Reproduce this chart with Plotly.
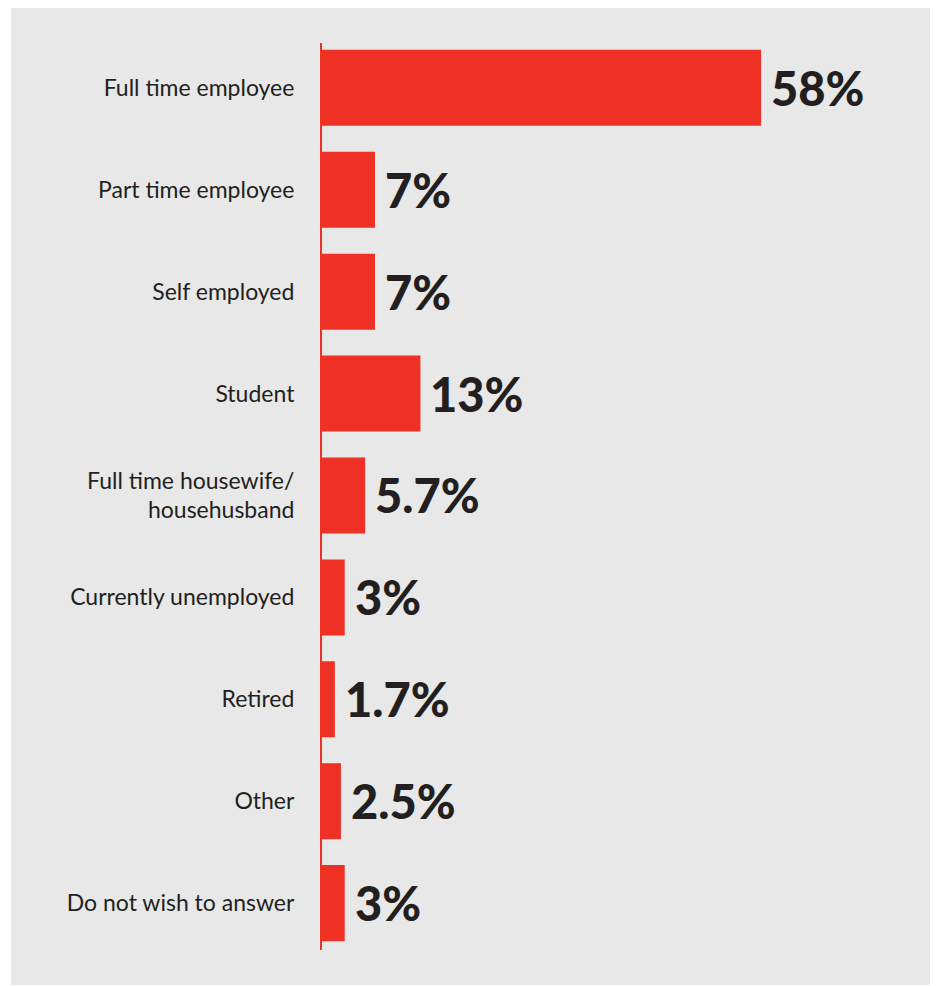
import plotly.graph_objects as go

categories = ["Full time employee", "Part time employee", "Self employed", "Student",
              "Full time housewife/<br>househusband", "Currently unemployed", "Retired",
              "Other", "Do not wish to answer"]
values = [58, 7, 7, 13, 5.7, 3, 1.7, 2.5, 3]
value_labels = ["58%", "7%", "7%", "13%", "5.7%", "3%", "1.7%", "2.5%", "3%"]

RED = "#ee3124"
INK = "#231f20"
PANEL = "#e7e8e7"

OFF = 8  # default page body margin
W, H = 938 - OFF, 986 - OFF
ML, MR, MT, MB = 322 - OFF, 5, 43 - OFF, 36
PW = W - ML - MR
PH = H - MT - MB

fig = go.Figure()
fig.add_trace(go.Bar(
    x=values, y=categories, orientation="h",
    marker=dict(color=RED, line=dict(width=0)),
    hoverinfo="skip",
))

for v, c, t in zip(values, categories, value_labels):
    fig.add_annotation(x=v, y=c, text=t, showarrow=False, xanchor="left", yanchor="middle",
                       xshift=8, yshift=0,
                       font=dict(family="Lato", size=47, color=INK, weight=900))

fig.add_shape(type="rect", xref="paper", yref="paper",
              x0=(11 - OFF - ML) / PW, x1=(933 - OFF - ML) / PW,
              y0=(MT + PH - (985 - OFF)) / PH, y1=(MT + PH - (5 - OFF)) / PH,
              fillcolor=PANEL, line=dict(width=0), layer="below")

fig.update_layout(
    width=W, height=H,
    margin=dict(l=ML, r=MR, t=MT, b=MB),
    paper_bgcolor="white", plot_bgcolor="rgba(0,0,0,0)",
    bargap=0.254,
    showlegend=False,
    xaxis=dict(range=[0, PW / 7.57], visible=False, fixedrange=True),
    yaxis=dict(categoryorder="array", categoryarray=categories,
               range=[8.46, -0.44], showline=True, linecolor=RED, linewidth=2,
               showgrid=False, zeroline=False, ticks="", ticklabelstandoff=21,
               tickfont=dict(family="Lato", size=23, color=INK)),
)

fig.write_html("out.html")
